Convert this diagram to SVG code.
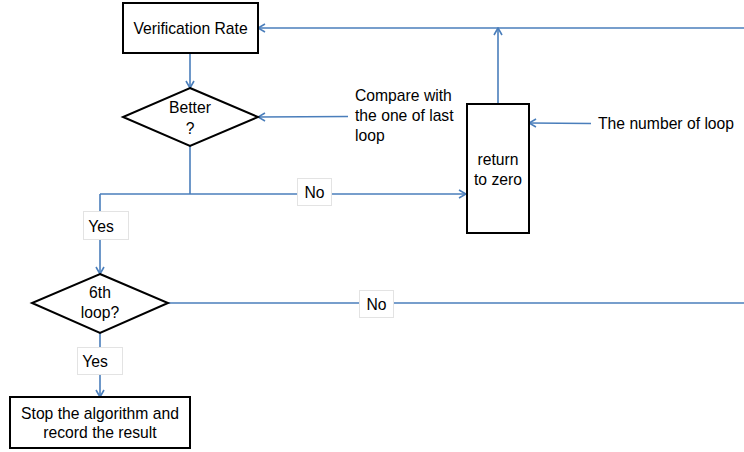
<svg xmlns="http://www.w3.org/2000/svg" width="744" height="452" viewBox="0 0 744 452">
  <style>
    .node { fill: #ffffff; stroke: #000000; stroke-width: 2; }
    .link { fill: none; stroke: #4a7ebb; stroke-width: 1.6; }
    .tag { fill: #ffffff; stroke: #e3e3e3; stroke-width: 1; }
    text { font-family: "Liberation Sans", Arial, sans-serif; font-size: 15.7px; fill: #000000; }
    .c { text-anchor: middle; }
  </style>
  <defs>
    <marker id="arrow" viewBox="0 0 10 10" refX="9" refY="5" markerWidth="10" markerHeight="10" markerUnits="userSpaceOnUse" orient="auto">
      <polyline points="2,1 9,5 2,9" fill="none" stroke="#4a7ebb" stroke-width="1.6"/>
    </marker>
  </defs>
  <rect width="744" height="452" fill="#ffffff"/>

  <g id="connectors">
    <!-- rate -> better? -->
    <line class="link" x1="190" y1="53" x2="190" y2="88" marker-end="url(#arrow)"/>
    <!-- comparison input -->
    <line class="link" x1="348" y1="116.5" x2="258" y2="117" marker-end="url(#arrow)"/>
    <!-- better? split -->
    <polyline class="link" points="190,146 190,194"/>
    <polyline class="link" points="100,194 466,194" marker-end="url(#arrow)"/>
    <line class="link" x1="100" y1="194" x2="100" y2="274" marker-end="url(#arrow)"/>
    <!-- return to zero -> back to top -->
    <line class="link" x1="498" y1="104" x2="498" y2="28" marker-end="url(#arrow)"/>
    <line class="link" x1="744" y1="28" x2="258" y2="28" marker-end="url(#arrow)"/>
    <!-- loop count input -->
    <line class="link" x1="591" y1="123.5" x2="529" y2="123" marker-end="url(#arrow)"/>
    <!-- 6th loop? branches -->
    <line class="link" x1="168" y1="303" x2="744" y2="303"/>
    <line class="link" x1="100" y1="333" x2="100" y2="397" marker-end="url(#arrow)"/>

    <!-- branch labels -->
    <rect class="tag" x="297.5" y="178.5" width="34" height="27"/>
    <text class="c" x="314.5" y="197.5">No</text>
    <rect class="tag" x="83.5" y="211.5" width="45" height="28"/>
    <text class="c" x="101" y="231.5">Yes</text>
    <rect class="tag" x="359.5" y="290.5" width="34" height="27"/>
    <text class="c" x="376.5" y="309.5">No</text>
    <rect class="tag" x="77.5" y="347.5" width="45" height="27"/>
    <text class="c" x="95" y="366.5">Yes</text>
  </g>

  <g id="verification-rate">
    <rect class="node" x="123" y="3" width="135" height="50"/>
    <text class="c" x="190.5" y="34">Verification Rate</text>
  </g>

  <g id="better">
    <polygon class="node" points="190,88 258,117 190,146 123,117"/>
    <text class="c" x="190" y="113">Better</text>
    <text class="c" x="190" y="134">?</text>
  </g>

  <g id="compare-note">
    <text x="355" y="101">Compare with</text>
    <text x="355" y="121">the one of last</text>
    <text x="355" y="141">loop</text>
  </g>

  <g id="return-to-zero">
    <rect class="node" x="467" y="104" width="62" height="129"/>
    <text class="c" x="498" y="165">return</text>
    <text class="c" x="498" y="185">to zero</text>
  </g>

  <g id="loop-note">
    <text x="598" y="129">The number of loop</text>
  </g>

  <g id="sixth-loop">
    <polygon class="node" points="100,274 168,303 100,333 32,303"/>
    <text class="c" x="100" y="298">6th</text>
    <text class="c" x="100" y="318">loop?</text>
  </g>

  <g id="stop">
    <rect class="node" x="10" y="397" width="180" height="51"/>
    <text class="c" x="100" y="419">Stop the algorithm and</text>
    <text class="c" x="100" y="438">record the result</text>
  </g>
</svg>
